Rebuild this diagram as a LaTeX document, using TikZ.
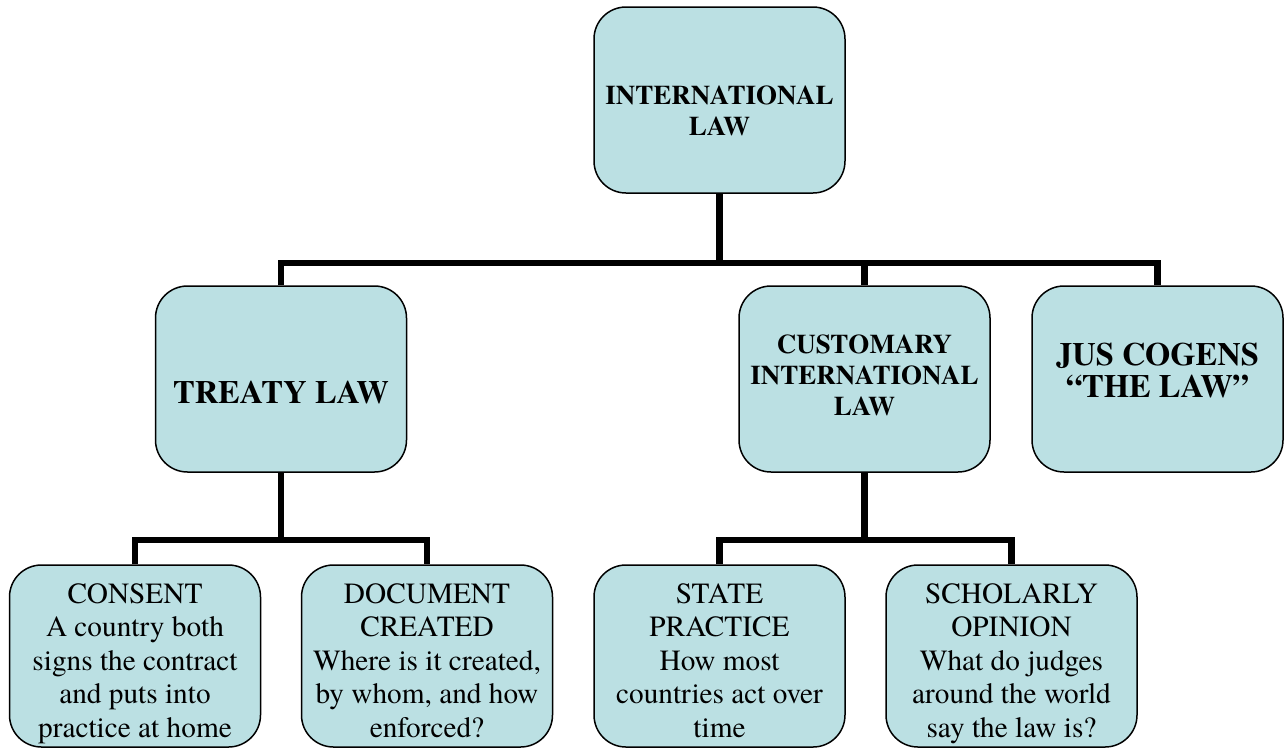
\documentclass[tikz,border=0pt]{standalone}
\usepackage{fontspec}
\setmainfont{texgyretermes}[Extension=.otf, UprightFont=*-regular, BoldFont=*-bold, Ligatures=TeX]
\definecolor{boxfill}{RGB}{187,224,227}
\begin{document}
\begin{tikzpicture}[x=1pt,y=-1pt,
  box/.style={draw=black, line width=1.5pt, fill=boxfill, rounded corners=32pt,
    minimum width=251pt, minimum height=186pt, inner sep=0pt},
  lowbox/.style={box, minimum height=182pt},
  conn/.style={draw=black, line width=6.5pt},
  txt/.style={anchor=north, inner sep=0pt, align=center, text=black},
  bigbold/.style={txt, font=\fontsize{32.5}{32}\selectfont\bfseries},
  midbold/.style={txt, font=\fontsize{27}{31}\selectfont\bfseries},
  plain/.style={txt, font=\fontsize{29.3}{33.5}\selectfont}
]
\useasboundingbox (0,0) rectangle (1285,748);
\coordinate (b1) at (719.5,263);
\coordinate (b2) at (281,540);
\coordinate (b3) at (864.5,540);
% boxes
\node[box] (top) at (719.5,100) {};
\node[box] (treaty) at (281,379) {};
\node[box] (cust) at (864.5,379) {};
\node[box] (jus) at (1157.5,379) {};
\node[lowbox] (consent) at (135,656) {};
\node[lowbox] (doc) at (427,656) {};
\node[lowbox] (state) at (719.5,656) {};
\node[lowbox] (schol) at (1011.5,656) {};
% texts
\node[midbold] (top-t) at (719.5,86) {INTERNATIONAL\\LAW};
\node[bigbold] (treaty-t) at (281,381) {TREATY LAW};
\node[midbold] (cust-t) at (864.5,335) {CUSTOMARY\\INTERNATIONAL\\LAW};
\node[bigbold] (jus-t) at (1157.5,343) {JUS COGENS\\``THE LAW''};
\node[plain] (consent-t) at (135,583) {CONSENT\\A country both\\signs the contract\\and puts into\\practice at home};
\node[plain] (doc-t) at (427,583) {DOCUMENT\\CREATED\\Where is it created,\\by whom, and how\\enforced?};
\node[plain] (state-t) at (719.5,583) {STATE\\PRACTICE\\How most\\countries act over\\time};
\node[plain] (schol-t) at (1011.5,583) {SCHOLARLY\\OPINION\\What do judges\\around the world\\say the law is?};
% connectors
\draw[conn] (top.south) -- (top.south |- b1);
\draw[conn] (treaty.north) |- (b1) -| (jus.north);
\draw[conn] (cust.north) -- (cust.north |- b1);
\draw[conn] (treaty.south) -- (b2);
\draw[conn] (consent.north) |- (b2) -| (doc.north);
\draw[conn] (cust.south) -- (b3);
\draw[conn] (state.north) |- (b3) -| (schol.north);
\end{tikzpicture}
\end{document}
